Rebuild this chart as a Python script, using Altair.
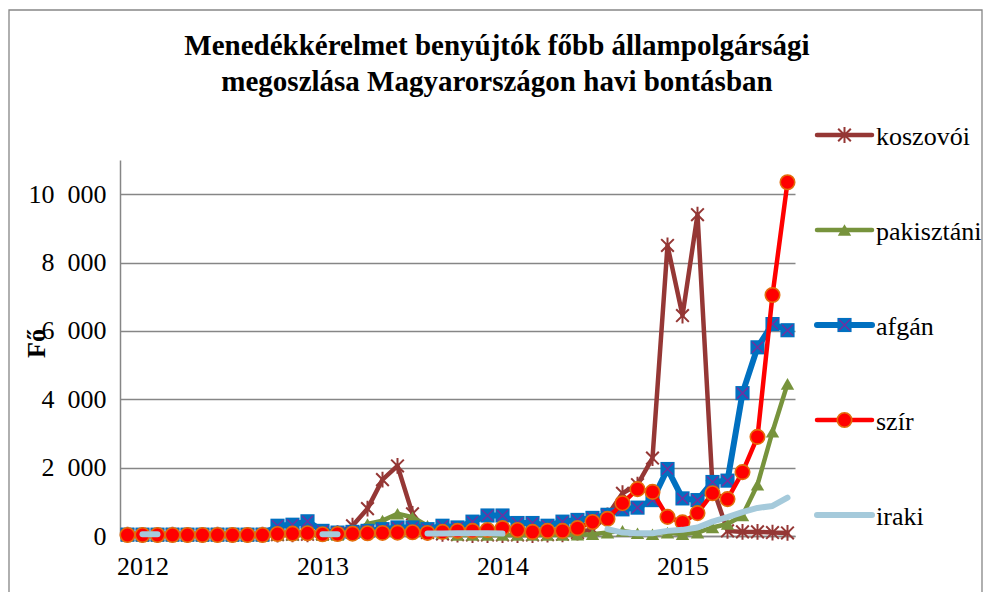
import altair as alt
import pandas as pd

# ---- data (monthly, index 0 = 2011-12 ... 44 = 2015-08) ----
months = [str(p) for p in pd.period_range("2011-12", "2015-08", freq="M")]
year_tick_idx = [1, 13, 25, 37]
y_ticks = [0, 2000, 4000, 6000, 8000, 10000]
series = ["koszovói", "pakisztáni", "afgán", "szír", "iraki"]

koszovoi = [40, 30, 30, 40, 30, 30, 40, 30, 30, 40,
            40, 50, 50, 60, 80,
            300, 800, 1650, 2050, 650,
            100, 60, 40, 30, 30,
            30, 30, 30, 40, 50,
            100, 200, 600, 1250, 1500,
            2280, 8500, 6450, 9400, 1450,
            150, 120, 120, 100, 90]
pakisztani = [20, 20, 20, 20, 20, 20, 20, 20, 20, 20,
              40, 40, 50, 30, 30,
              100, 350, 450, 650, 550,
              300, 80, 30, 30, 30,
              30, 30, 30, 30, 30,
              40, 50, 100, 150, 80,
              50, 100, 50, 100, 250,
              350, 600, 1500, 3050, 4450]
afgan = [40, 40, 40, 40, 40, 40, 40, 40, 40, 40,
         300, 330, 430, 150, 100,
         120, 150, 200, 250, 250,
         200, 300, 250, 420, 600,
         600, 380, 380, 300, 420,
         470, 530, 620, 780, 830,
         1050, 1960, 1100, 1050, 1580,
         1620, 4180, 5520, 6200, 6020]
szir = [30, 30, 30, 30, 30, 30, 30, 30, 30, 30,
        60, 70, 80, 50, 60,
        70, 80, 90, 100, 110,
        90, 120, 150, 150, 175,
        230, 175, 120, 150, 150,
        230, 410, 500, 960, 1370,
        1290, 560, 400, 670, 1250,
        1080, 1870, 2900, 7050, 10350]
iraki = [None, 50, 50, None, None, None, None, None, None, None,
         None, None, None, 50, 50,
         None, None, None, None, None,
         70, 70, 80, 80, 80,
         70, None, None, None, None,
         None, None, 200, 100, 80,
         80, 150, 180, 250, 420,
         550, 700, 820, 880, 1120]

TITLE = "Menedékkérelmet benyújtók főbb állampolgársági\nmegoszlása Magyarországon havi bontásban"

# ---- table ----
rows = []
for name, vals in zip(series, [koszovoi, pakisztani, afgan, szir, iraki]):
    seg = 0
    for i, v in enumerate(vals):
        if v is None:
            seg += 1
            continue
        rows.append({"idx": i, "month": months[i], "series": name, "value": v, "seg": f"{name}-{seg}"})
df = pd.DataFrame(rows)
legend_df = pd.DataFrame({"series": series, "rank": list(range(len(series)))})

# ---- styles ----
SERIF = "Liberation Serif"
BROWN, GREEN, BLUE, RED, LIGHT = "#953735", "#77933C", "#0070C0", "#FF0000", "#A5CADB"
PURPLE, ORANGE = "#7030A0", "#E46C0A"
ASTERISK = "M-0.8,-0.8L0.8,0.8M-0.8,0.8L0.8,-0.8M0,-1L0,1"
XPATH = "M-1,-1L1,1M-1,1L1,-1"

LINES = {
    "koszovói": dict(color=BROWN, strokeWidth=4.5),
    "pakisztáni": dict(color=GREEN, strokeWidth=4.5),
    "afgán": dict(color=BLUE, strokeWidth=6),
    "szír": dict(color=RED, strokeWidth=4.5),
    "iraki": dict(color=LIGHT, strokeWidth=6),
}
MARKERS = {
    "koszovói": [dict(shape=ASTERISK, size=250, filled=False, color=BROWN, strokeWidth=2)],
    "pakisztáni": [dict(shape="triangle-up", size=180, filled=True, color=GREEN)],
    "afgán": [dict(shape="square", size=200, filled=True, color=BLUE),
              dict(shape=XPATH, size=120, filled=False, color=PURPLE, strokeWidth=1.5)],
    "szír": [dict(shape="circle", size=210, filled=True, fill=RED, stroke=ORANGE, strokeWidth=1.6)],
    "iraki": [],
}

x_enc = alt.X("idx:Q",
              scale=alt.Scale(domain=[-0.5, 44.5], nice=False, zero=False),
              axis=alt.Axis(values=year_tick_idx,
                            labelExpr="toString(2011 + ceil(datum.value / 12))",
                            title=None, grid=False, ticks=False,
                            domainColor="#868686", domainWidth=1.5,
                            labelFont=SERIF, labelFontSize=26, labelColor="black",
                            labelPadding=17, labelAngle=0, labelFlush=False))
y_enc = alt.Y("value:Q",
              scale=alt.Scale(domain=[0, 11000], nice=False),
              axis=alt.Axis(values=y_ticks,
                            labelExpr="replace(format(datum.value, ','), ',', '\u2007')",
                            grid=True, gridColor="#868686", gridWidth=1.5,
                            ticks=False, domainColor="#868686", domainWidth=1.5,
                            labelFont=SERIF, labelFontSize=26, labelColor="black",
                            labelPadding=14,
                            title="Fő", titleFont=SERIF, titleFontSize=26,
                            titleFontWeight="bold", titleColor="black",
                            titleAngle=270, titleX=-84, titleY=183,
                            titleAlign="center", titleBaseline="middle"))

# ---- series layers ----
layers = []
for name in series:
    base = alt.Chart(df).transform_filter(alt.datum.series == name)
    layers.append(base.mark_line(strokeCap="round", strokeJoin="round", **LINES[name])
                  .encode(x=x_enc, y=y_enc, detail="seg:N"))
    for m in MARKERS[name]:
        layers.append(base.mark_point(opacity=1, **m).encode(x=x_enc, y=y_enc))
main = alt.layer(*layers)

# ---- legend (custom, line + marker + label) ----
leg_y = alt.Y("rank:Q", scale=alt.Scale(domain=[0, 4], range=[-25, 355]), axis=None)
leg_layers = []
for name in series:
    lb = alt.Chart(legend_df).transform_filter(alt.datum.series == name)
    leg_layers.append(lb.mark_rule(strokeCap="round", **LINES[name])
                      .encode(x=alt.value(697), x2=alt.value(752), y=leg_y))
    for m in MARKERS[name]:
        leg_layers.append(lb.mark_point(opacity=1, **m).encode(x=alt.value(724.5), y=leg_y))
leg_layers.append(alt.Chart(legend_df).mark_text(align="left", baseline="alphabetic", dy=10,
                                                 font=SERIF, fontSize=26, color="black")
                  .encode(x=alt.value(756), y=leg_y, text="series:N"))
legend = alt.layer(*leg_layers)

# ---- title and frame ----
title = alt.Chart(pd.DataFrame({"t": [TITLE]})).mark_text(
    align="center", baseline="alphabetic", lineBreak="\n", lineHeight=36,
    font=SERIF, fontSize=29, fontWeight="bold", color="black"
).encode(x=alt.value(377), y=alt.value(-105), text="t:N")

frame = alt.Chart(pd.DataFrame({"a": [0]})).mark_rect(
    filled=False, stroke="#868686", strokeWidth=1.3
).encode(x=alt.value(-111), x2=alt.value(862), y=alt.value(-150), y2=alt.value(470))

chart = alt.layer(frame, main, legend, title).resolve_scale(y="independent").properties(
    width=675, height=376,
    autosize=alt.AutoSizeParams(type="none"),
    padding={"left": 112, "top": 152, "right": 189, "bottom": 56},
    background="white",
).configure_view(stroke="transparent")

chart.save("out.html", embed_options={"renderer": "svg", "actions": False})
